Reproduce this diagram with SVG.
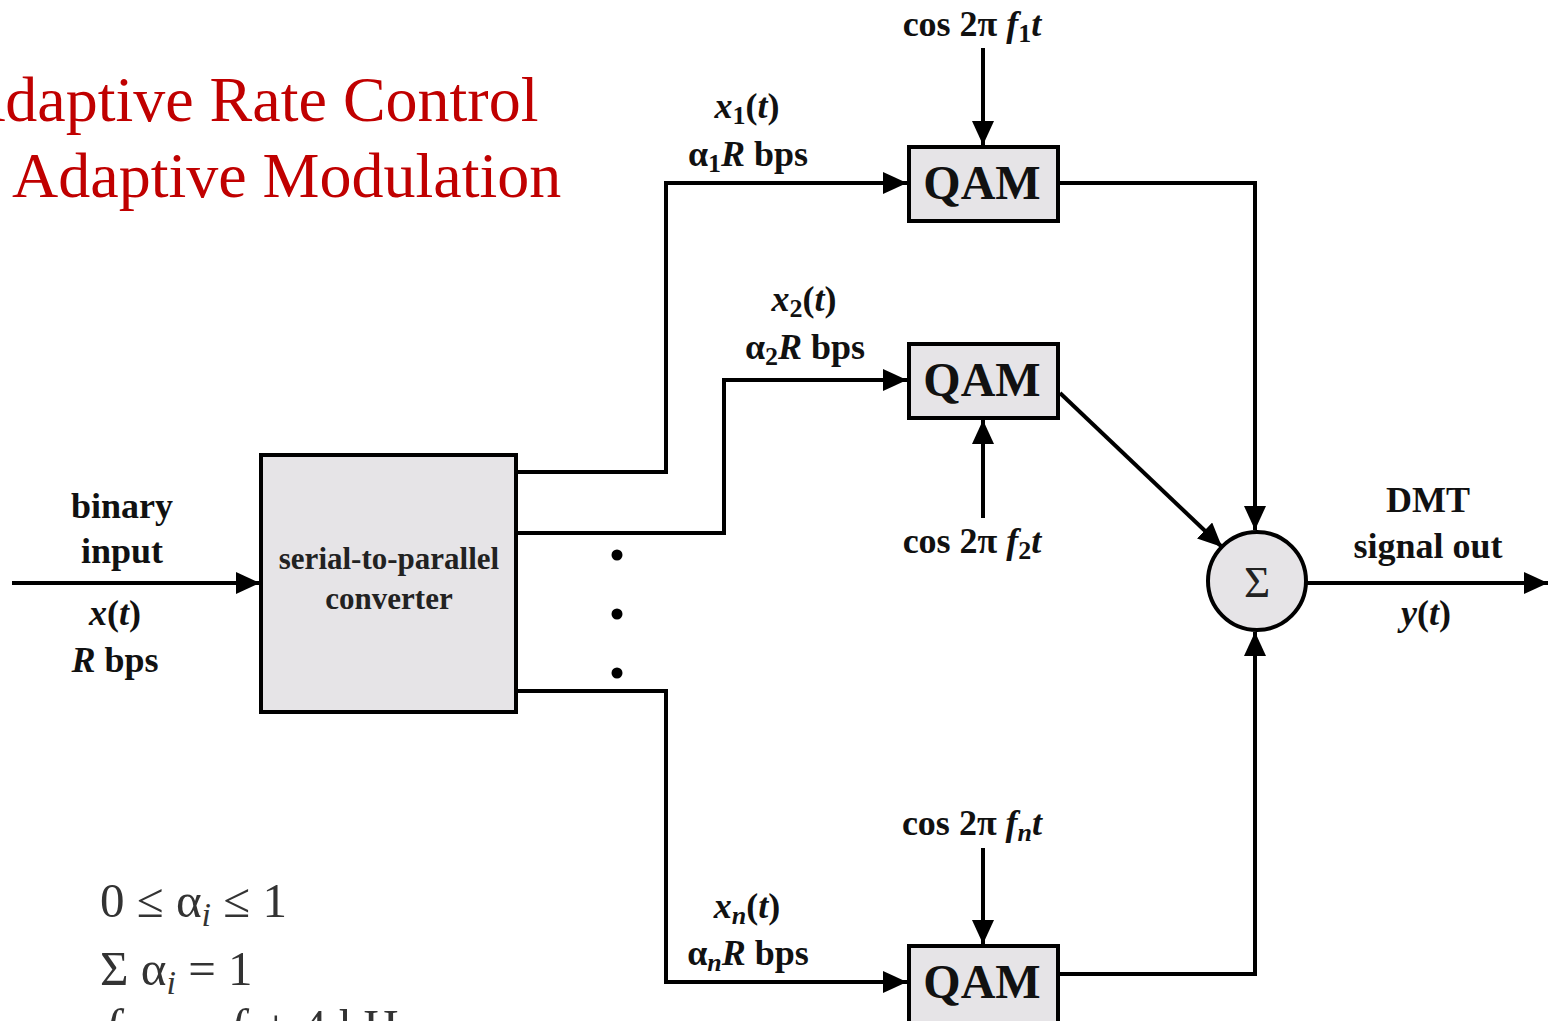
<svg xmlns="http://www.w3.org/2000/svg" width="1548" height="1021" viewBox="0 0 1548 1021">
<defs>
<marker id="ah" markerUnits="userSpaceOnUse" markerWidth="26" markerHeight="24" refX="24" refY="11" orient="auto">
<path d="M0,0 L24,11 L0,22 Z" fill="#000"/>
</marker>
<style>
.ln{fill:none;stroke:#000;stroke-width:4;}
.arr{marker-end:url(#ah);}
.box{fill:#e6e4e7;stroke:#000;stroke-width:4;}
.lb{font-family:"Liberation Serif","Times New Roman",serif;font-weight:bold;font-size:36px;fill:#111;text-anchor:middle;}
.qam{font-family:"Liberation Serif","Times New Roman",serif;font-weight:bold;font-size:48px;fill:#111;text-anchor:middle;}
.sp{font-family:"Liberation Serif","Times New Roman",serif;font-weight:bold;font-size:31px;fill:#222;text-anchor:middle;}
.it{font-style:italic;}
.sub{font-size:26px;}
.title{font-family:"Liberation Serif","Times New Roman",serif;font-size:64px;fill:#c00000;}
.eq{font-family:"Liberation Serif","Times New Roman",serif;font-size:49px;fill:#333;}
.eqs{font-size:34px;}
</style>
</defs>
<rect width="1548" height="1021" fill="#fff"/>

<g id="title">
<text class="title" x="-41" y="121">Adaptive Rate Control</text>
<text class="title" x="12" y="197">Adaptive Modulation</text>
</g>

<g id="connectors">
<path class="ln arr" d="M12,583 H260"/>
<path class="ln arr" d="M516,472 H666 V183 H907"/>
<path class="ln arr" d="M516,533 H724 V380 H907"/>
<path class="ln arr" d="M516,691 H666 V982 H907"/>
<path class="ln arr" d="M983,48 V145"/>
<path class="ln arr" d="M983,518 V420"/>
<path class="ln arr" d="M983,848 V944"/>
<path class="ln arr" d="M1058,183 H1255 V530"/>
<path class="ln arr" d="M1058,974 H1255 V632"/>
<path class="ln arr" d="M1060,393 L1222,547"/>
<path class="ln arr" d="M1306,583 H1548"/>
<circle cx="617" cy="555" r="5.5" fill="#000"/>
<circle cx="617" cy="614" r="5.5" fill="#000"/>
<circle cx="617" cy="673" r="5.5" fill="#000"/>
</g>

<g id="input-label">
<text class="lb" x="122" y="518">binary</text>
<text class="lb" x="122" y="563">input</text>
<text class="lb" x="115" y="625"><tspan class="it">x</tspan>(<tspan class="it">t</tspan>)</text>
<text class="lb" x="115" y="672"><tspan class="it">R</tspan> bps</text>
</g>

<g id="sp-converter">
<rect class="box" x="261" y="455" width="255" height="257"/>
<text class="sp" x="389" y="569">serial-to-parallel</text>
<text class="sp" x="389" y="609">converter</text>
</g>

<g id="qam1">
<rect class="box" x="909" y="147" width="149" height="74"/>
<text class="qam" x="982" y="199">QAM</text>
</g>
<g id="qam2">
<rect class="box" x="909" y="344" width="149" height="74"/>
<text class="qam" x="982" y="396">QAM</text>
</g>
<g id="qamn">
<rect class="box" x="909" y="946" width="149" height="90"/>
<text class="qam" x="982" y="998">QAM</text>
</g>

<g id="sum">
<circle cx="1257" cy="581" r="49" class="box"/>
<text x="1257" y="597" font-family="Liberation Serif, Times New Roman, serif" font-size="45" fill="#222" text-anchor="middle">Σ</text>
</g>

<g id="labels">
<text class="lb" x="972" y="36">cos 2π <tspan class="it">f</tspan><tspan class="sub" dy="6">1</tspan><tspan class="it" dy="-6">t</tspan></text>
<text class="lb" x="972" y="553">cos 2π <tspan class="it">f</tspan><tspan class="sub" dy="6">2</tspan><tspan class="it" dy="-6">t</tspan></text>
<text class="lb" x="972" y="835">cos 2π <tspan class="it">f</tspan><tspan class="sub it" dy="6">n</tspan><tspan class="it" dy="-6">t</tspan></text>

<text class="lb" x="747" y="118"><tspan class="it">x</tspan><tspan class="sub" dy="6">1</tspan><tspan dy="-6">(</tspan><tspan class="it">t</tspan>)</text>
<text class="lb" x="748" y="166">α<tspan class="sub" dy="6">1</tspan><tspan class="it" dy="-6">R</tspan> bps</text>

<text class="lb" x="804" y="311"><tspan class="it">x</tspan><tspan class="sub" dy="6">2</tspan><tspan dy="-6">(</tspan><tspan class="it">t</tspan>)</text>
<text class="lb" x="805" y="359">α<tspan class="sub" dy="6">2</tspan><tspan class="it" dy="-6">R</tspan> bps</text>

<text class="lb" x="747" y="918"><tspan class="it">x</tspan><tspan class="sub it" dy="6">n</tspan><tspan dy="-6">(</tspan><tspan class="it">t</tspan>)</text>
<text class="lb" x="748" y="965">α<tspan class="sub it" dy="6">n</tspan><tspan class="it" dy="-6">R</tspan> bps</text>

<text class="lb" x="1428" y="512">DMT</text>
<text class="lb" x="1428" y="558">signal out</text>
<text class="lb" x="1426" y="625"><tspan class="it">y</tspan>(<tspan class="it">t</tspan>)</text>
</g>

<g id="equations">
<text class="eq" x="100" y="917">0 ≤ α<tspan class="eqs it" dy="9">i</tspan><tspan dy="-9"> ≤ 1</tspan></text>
<text class="eq" x="100" y="985">Σ α<tspan class="eqs it" dy="9">i</tspan><tspan dy="-9"> = 1</tspan></text>
<text class="eq" x="105" y="1043"><tspan class="it">f</tspan><tspan class="eqs it" dy="9">i+1</tspan><tspan dy="-9"> = </tspan><tspan class="it" x="230">f</tspan><tspan class="eqs it" dy="9">i</tspan><tspan dy="-9" x="262">+ 4 kHz</tspan></text>
</g>
</svg>
